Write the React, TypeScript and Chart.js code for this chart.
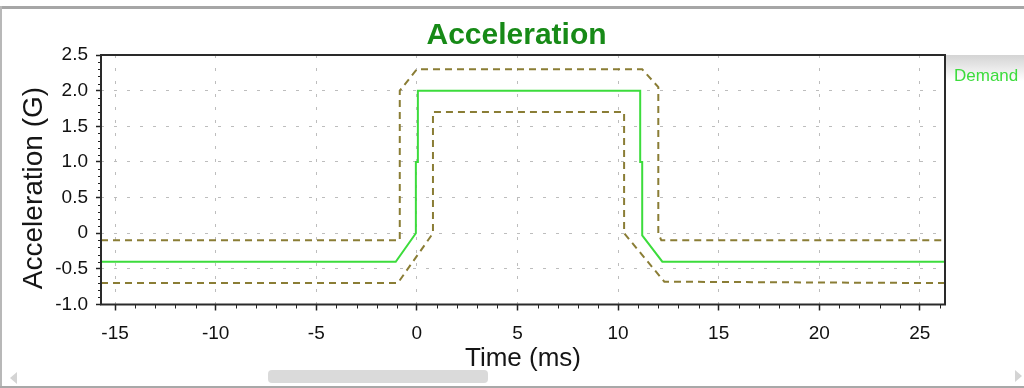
import React, { useEffect, useRef } from "react";
import { Chart, registerables } from "chart.js";

Chart.register(...registerables);

const TITLE = "Acceleration";
const X_LABEL = "Time (ms)";
const Y_LABEL = "Acceleration (G)";

const X_MIN = -15.7;
const X_MAX = 26.25;
const Y_MIN = -1.0;
const Y_MAX = 2.5;
const X_TICKS = [-15, -10, -5, 0, 5, 10, 15, 20, 25];
const Y_TICKS = [-1.0, -0.5, 0, 0.5, 1.0, 1.5, 2.0, 2.5];
const X_MINOR_STEP = 1;
const Y_MINOR_STEP = 0.1;

const DEMAND_LABEL = "Demand";
const DEMAND_X = [-15.7, -1.05, -0.05, -0.05, 0.05, 0.05, 11.1, 11.1, 11.2, 11.2, 12.2, 26.25];
const DEMAND_Y = [-0.4, -0.4, 0.0, 1.0, 1.0, 2.0, 2.0, 1.0, 1.0, -0.03, -0.4, -0.4];

const UPPER_LABEL = "Upper limit";
const UPPER_X = [-15.7, -0.85, -0.85, 0.0, 11.2, 12.0, 12.0, 12.15, 26.25];
const UPPER_Y = [-0.1, -0.1, 2.0, 2.3, 2.3, 2.05, 0.0, -0.1, -0.1];

const LOWER_LABEL = "Lower limit";
const LOWER_X = [-15.7, -0.95, 0.8, 0.8, 10.3, 10.3, 12.3, 26.25];
const LOWER_Y = [-0.7, -0.7, 0.0, 1.7, 1.7, 0.0, -0.68, -0.7];

const GREEN = "#3cdc3c";
const OLIVE = "#8a7d35";
const FONT = '"Liberation Sans", Arial, sans-serif';

const toPoints = (xs: number[], ys: number[]) => xs.map((x, i) => ({ x, y: ys[i] }));

const decorPlugin = {
  id: "decor",
  afterDraw(chart: any) {
    const { ctx, chartArea: a, scales } = chart;
    const xs = scales.x;
    const ys = scales.y;
    ctx.save();
    // minor ticks
    ctx.strokeStyle = "#222";
    ctx.lineWidth = 1;
    ctx.beginPath();
    for (let v = Math.ceil(X_MIN); v <= X_MAX; v += X_MINOR_STEP) {
      if (X_TICKS.includes(v)) continue;
      const px = Math.round(xs.getPixelForValue(v)) + 0.5;
      ctx.moveTo(px, a.bottom);
      ctx.lineTo(px, a.bottom + 4);
    }
    for (let i = 0; ; i++) {
      const v = Math.round((Y_MIN + i * Y_MINOR_STEP) * 10) / 10;
      if (v > Y_MAX) break;
      if (Y_TICKS.includes(v)) continue;
      const py = Math.round(ys.getPixelForValue(v)) + 0.5;
      ctx.moveTo(a.left - 3, py);
      ctx.lineTo(a.left + 1, py);
    }
    ctx.stroke();
    // plot box
    ctx.strokeStyle = "#2a2a2a";
    ctx.lineWidth = 2;
    ctx.strokeRect(a.left, a.top, a.right - a.left, a.bottom - a.top);
    // title
    ctx.fillStyle = "#178a17";
    ctx.font = `bold 30px ${FONT}`;
    ctx.textAlign = "center";
    ctx.textBaseline = "alphabetic";
    ctx.fillText(TITLE, 516.5, 43.5);
    // y title
    ctx.save();
    ctx.translate(41.5, 188);
    ctx.rotate(-Math.PI / 2);
    ctx.fillStyle = "#151515";
    ctx.font = `28px ${FONT}`;
    ctx.textAlign = "center";
    ctx.fillText(Y_LABEL, 0, 0);
    ctx.restore();
    // legend
    const lx = a.right + 1;
    const g = ctx.createLinearGradient(0, a.top, 0, a.top + 26);
    g.addColorStop(0, "#d4d4d4");
    g.addColorStop(1, "#ffffff");
    ctx.fillStyle = g;
    ctx.fillRect(lx, a.top, chart.width - lx, 26);
    const ds = chart.data.datasets[0];
    ctx.fillStyle = ds.borderColor;
    ctx.font = `17px ${FONT}`;
    ctx.textAlign = "left";
    ctx.fillText(ds.label, 954, 81);
    ctx.restore();
  },
};

export default function App() {
  const ref = useRef<HTMLCanvasElement | null>(null);

  useEffect(() => {
    if (!ref.current) return;
    const chart = new Chart(ref.current, {
      type: "line",
      data: {
        datasets: [
          {
            label: DEMAND_LABEL,
            data: toPoints(DEMAND_X, DEMAND_Y),
            borderColor: GREEN,
            borderWidth: 2,
            pointRadius: 0,
            tension: 0,
            fill: false,
          },
          {
            label: UPPER_LABEL,
            data: toPoints(UPPER_X, UPPER_Y),
            borderColor: OLIVE,
            borderWidth: 2,
            borderDash: [7, 5],
            pointRadius: 0,
            tension: 0,
            fill: false,
          },
          {
            label: LOWER_LABEL,
            data: toPoints(LOWER_X, LOWER_Y),
            borderColor: OLIVE,
            borderWidth: 2,
            borderDash: [7, 5],
            pointRadius: 0,
            tension: 0,
            fill: false,
          },
        ],
      },
      options: {
        animation: false,
        responsive: false,
        devicePixelRatio: 1,
        layout: { padding: { left: 0, right: 79, top: 55, bottom: 0 } },
        plugins: {
          legend: { display: false },
          title: { display: false },
          tooltip: { enabled: false },
        },
        scales: {
          x: {
            type: "linear",
            min: X_MIN,
            max: X_MAX,
            afterBuildTicks: (s: any) => {
              s.ticks = X_TICKS.map((v) => ({ value: v }));
            },
            afterFit: (s: any) => {
              s.height = 83.5;
            },
            ticks: {
              color: "#111",
              font: { size: 19, family: FONT },
              padding: 12,
              maxRotation: 0,
              autoSkip: false,
              callback: (v: any) => String(v),
            },
            grid: {
              color: "#bdbdbd",
              lineWidth: 1,
              tickColor: "#222",
              tickLength: 6,
              tickWidth: 1.5,
              tickBorderDash: [],
            },
            border: { display: false, dash: [3, 10] },
            title: {
              display: true,
              text: X_LABEL,
              color: "#151515",
              font: { size: 26, family: FONT },
              padding: { top: 0, bottom: 14 },
            },
          },
          y: {
            type: "linear",
            min: Y_MIN,
            max: Y_MAX,
            afterBuildTicks: (s: any) => {
              s.ticks = Y_TICKS.map((v) => ({ value: v }));
            },
            afterFit: (s: any) => {
              s.width = 101;
            },
            ticks: {
              color: "#111",
              font: { size: 19, family: FONT },
              padding: 8,
              autoSkip: false,
              callback: (v: any) => (Number(v) === 0 ? "0" : Number(v).toFixed(1)),
            },
            grid: {
              color: "#bdbdbd",
              lineWidth: 1,
              tickColor: "#222",
              tickLength: 5,
              tickWidth: 1.5,
              tickBorderDash: [],
            },
            border: { display: false, dash: [3, 10] },
          },
        },
      },
      plugins: [decorPlugin],
    } as any);
    return () => chart.destroy();
  }, []);

  return (
    <div style={{ position: "fixed", left: 0, top: 0, width: 1024, height: 388, background: "#fff", overflow: "hidden" }}>
      <canvas ref={ref} width={1024} height={388} style={{ display: "block", width: 1024, height: 388 }} />
      <div style={{ position: "absolute", left: 0, top: 6, width: 1024, height: 3, background: "#a6a6a6" }} />
      <div style={{ position: "absolute", left: 0, top: 6, width: 2, height: 382, background: "#b8b8b8" }} />
      <div style={{ position: "absolute", left: 0, top: 386, width: 1024, height: 2, background: "#a8a8a8" }} />
      <div style={{ position: "absolute", left: 268, top: 370, width: 220, height: 13, borderRadius: 4, background: "#dadada" }} />
      <div style={{ position: "absolute", left: 10, top: 372, width: 0, height: 0, borderTop: "6px solid transparent", borderBottom: "6px solid transparent", borderRight: "7px solid #d4d4d4" }} />
      <div style={{ position: "absolute", left: 1015, top: 370, width: 0, height: 0, borderTop: "6px solid transparent", borderBottom: "6px solid transparent", borderLeft: "7px solid #d4d4d4" }} />
    </div>
  );
}
